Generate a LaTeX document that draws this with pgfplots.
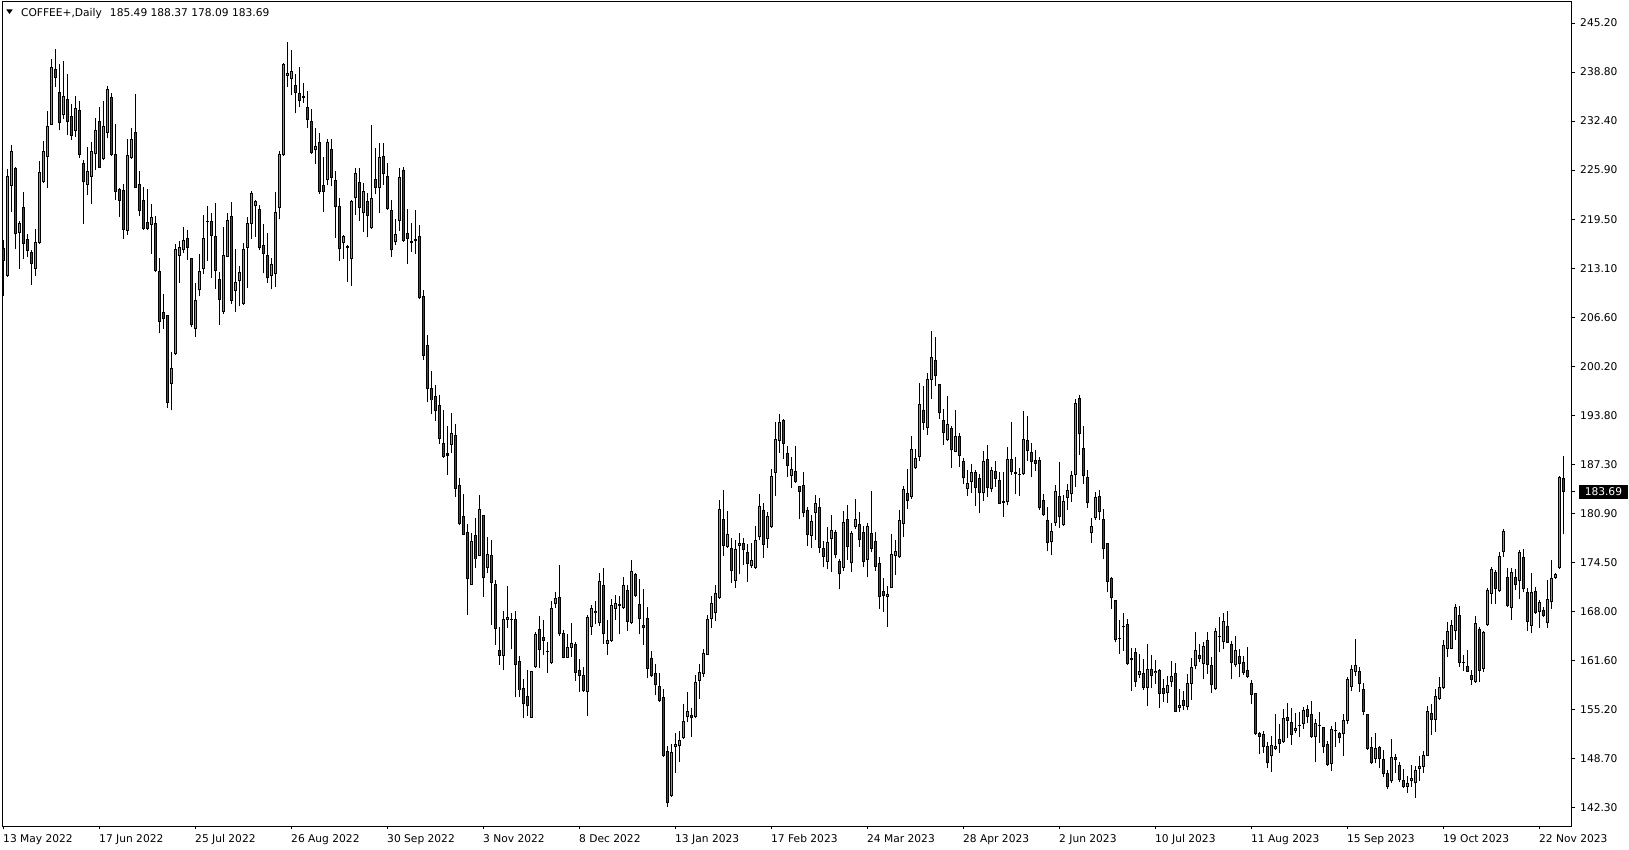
\documentclass[border=0pt]{standalone}
\usepackage{fontspec}
\setmainfont{DejaVu Sans}
\usepackage{pgfplots}
\usepackage{pgfplotstable}
\pgfplotsset{compat=1.18}
\definecolor{bull}{RGB}{30,222,30}
\definecolor{bear}{RGB}{235,0,0}
\pgfplotstableread{
x o h l c
0 215.64 216.73 209.38 213.98
1 212.05 226.01 211.92 225.13
2 223.86 229.20 220.45 228.37
3 226.14 226.30 215.55 217.48
4 217.70 219.23 212.93 218.96
5 221.02 223.03 214.24 216.25
6 216.82 217.48 214.55 215.33
7 215.16 215.42 210.83 213.63
8 212.97 218.18 212.01 216.43
9 216.38 227.10 216.25 225.61
10 224.39 229.73 224.17 228.37
11 227.67 233.66 223.60 231.65
12 231.87 240.49 231.80 239.39
13 239.17 241.80 236.86 238.04
14 236.11 239.83 231.17 232.13
15 233.18 240.22 232.61 235.59
16 235.19 238.52 230.56 232.26
17 232.96 234.54 229.86 230.43
18 231.08 235.63 230.29 234.01
19 233.75 234.97 227.54 227.89
20 226.79 227.23 218.88 224.39
21 223.99 228.94 222.64 225.74
22 225.04 229.64 221.46 228.37
23 228.06 232.70 225.92 231.17
24 232.35 234.19 226.14 226.23
25 227.32 234.97 227.20 231.65
26 230.82 236.94 230.08 236.55
27 235.46 236.07 227.76 227.89
28 227.98 231.96 221.98 223.08
29 223.38 223.50 219.80 221.89
30 223.25 224.08 216.86 218.09
31 217.96 229.99 217.39 227.84
32 227.54 231.39 227.40 229.94
33 230.86 235.89 223.50 223.60
34 224.04 225.79 219.93 220.59
35 221.94 223.74 218.10 218.18
36 219.06 223.43 218.10 218.18
37 218.66 221.46 214.95 219.71
38 218.97 219.89 212.50 212.67
39 212.63 214.38 204.49 206.02
40 207.25 209.65 205.06 206.33
41 206.85 206.90 194.73 195.39
42 197.80 202.04 194.38 199.90
43 201.73 216.17 201.70 215.56
44 214.68 216.61 211.10 215.82
45 215.47 218.44 214.99 216.74
46 216.96 218.05 214.16 215.73
47 214.33 214.40 205.28 205.63
48 205.02 211.10 204.05 208.82
49 210.13 214.86 209.43 212.63
50 212.89 220.02 212.32 216.96
51 219.10 221.20 213.98 219.20
52 219.23 220.28 211.80 217.31
53 217.26 221.59 210.35 212.71
54 211.62 212.54 205.63 208.91
55 207.33 218.40 207.07 214.73
56 214.55 220.28 214.46 219.36
57 219.84 221.73 208.34 208.78
58 210.09 215.56 207.33 211.23
59 211.40 213.33 208.03 212.50
60 208.34 216.34 208.21 215.56
61 215.73 219.76 210.48 218.97
62 218.79 223.13 216.87 222.86
63 221.24 221.99 217.18 221.86
64 220.76 221.33 215.47 215.73
65 216.08 218.84 212.36 214.86
66 214.77 217.61 211.10 211.71
67 212.05 214.37 210.26 213.54
68 212.23 222.99 210.61 220.36
69 220.89 228.41 219.44 227.97
70 227.84 239.92 227.80 239.78
71 238.21 242.67 236.85 238.60
72 237.82 241.67 235.76 238.87
73 237.03 238.52 233.35 235.98
74 235.98 239.43 234.14 234.93
75 235.58 237.29 234.75 235.32
76 234.14 236.28 231.47 232.48
77 232.30 233.88 228.02 228.10
78 228.50 231.39 226.66 229.02
79 229.55 230.77 222.77 223.07
80 223.90 227.67 220.45 223.07
81 224.60 230.03 223.90 229.55
82 228.67 229.99 223.82 224.91
83 224.56 225.74 217.04 221.02
84 221.15 222.20 213.93 215.51
85 216.29 217.39 214.19 217.21
86 215.90 216.12 211.17 215.64
87 214.19 221.98 210.74 221.81
88 222.20 226.22 220.06 225.48
89 224.30 226.18 219.27 220.89
90 220.23 224.17 217.82 223.12
91 221.85 222.85 217.08 219.92
92 218.26 231.82 218.20 222.20
93 224.69 228.85 222.72 223.60
94 223.51 229.42 220.23 227.62
95 227.71 229.42 223.99 225.35
96 225.13 226.88 220.70 220.76
97 220.67 222.00 214.54 215.37
98 216.42 219.50 216.12 217.47
99 219.18 226.22 217.97 225.01
100 225.88 226.30 216.51 216.66
101 217.63 220.78 213.65 216.90
102 216.61 219.03 215.20 216.32
103 216.85 220.69 214.96 216.66
104 217.24 218.65 209.00 209.08
105 209.33 210.20 200.98 201.46
106 202.92 204.28 195.54 197.14
107 197.29 199.52 193.84 195.68
108 196.22 197.72 193.01 194.28
109 195.05 196.41 189.96 190.68
110 190.05 194.42 188.11 188.31
111 188.45 192.33 185.93 188.74
112 189.86 193.99 188.79 191.36
113 191.12 192.58 183.06 184.03
114 184.52 185.49 179.32 179.42
115 180.49 183.40 177.96 178.06
116 178.35 179.42 167.58 172.24
117 171.51 178.30 171.41 177.19
118 177.96 180.25 173.69 174.81
119 175.25 183.21 175.20 181.41
120 180.59 180.60 169.91 172.33
121 173.64 177.77 173.01 175.49
122 175.34 177.38 166.27 171.70
123 171.56 172.14 163.64 165.63
124 162.92 165.93 160.97 162.19
125 162.19 168.01 160.25 166.95
126 166.90 171.31 165.88 167.24
127 166.85 167.77 163.01 166.80
128 166.95 168.11 156.70 160.93
129 161.46 162.09 156.70 157.62
130 157.90 159.08 153.96 155.80
131 156.85 160.26 154.31 155.54
132 154.05 160.20 153.96 160.17
133 160.66 165.25 160.61 165.03
134 165.64 167.39 160.61 162.89
135 164.59 166.87 162.27 164.16
136 162.75 164.02 159.96 162.70
137 161.18 169.36 161.10 168.40
138 168.92 170.54 168.40 169.71
139 169.84 174.09 164.81 164.99
140 165.12 165.56 161.84 161.92
141 161.92 165.03 161.84 163.28
142 163.15 166.43 162.06 163.81
143 163.67 164.02 158.86 159.87
144 160.26 161.71 157.46 159.47
145 159.61 160.66 157.42 157.55
146 157.37 167.52 154.31 167.26
147 165.91 168.88 164.90 168.44
148 168.05 169.36 166.30 167.74
149 166.43 172.99 166.08 171.94
150 171.42 173.74 163.72 164.99
151 163.72 166.82 162.32 164.20
152 164.16 169.62 164.02 168.79
153 168.35 170.15 166.91 169.05
154 168.75 170.06 164.99 168.97
155 168.40 172.47 168.31 171.42
156 170.76 171.46 165.47 166.56
157 166.43 174.74 166.34 173.25
158 172.86 173.08 169.89 169.97
159 168.92 172.29 164.99 166.95
160 166.21 170.94 163.59 165.77
161 167.09 168.62 159.21 160.44
162 161.84 162.76 159.34 159.56
163 159.87 161.05 157.02 158.29
164 158.16 159.87 156.15 156.28
165 156.72 157.77 148.90 148.98
166 149.68 150.33 142.37 142.81
167 143.73 150.55 143.70 149.55
168 150.16 151.99 146.83 150.60
169 150.29 152.26 148.28 151.08
170 151.34 155.84 151.30 153.57
171 154.09 157.38 153.53 154.88
172 154.40 155.32 151.56 153.96
173 154.09 159.61 154.00 158.69
174 158.86 161.05 156.54 160.00
175 159.74 163.02 159.43 162.49
176 162.32 167.52 162.30 167.00
177 166.96 170.02 165.77 169.06
178 167.74 171.46 166.78 170.37
179 169.80 182.62 169.67 181.39
180 180.12 183.93 175.31 176.62
181 176.49 181.17 176.36 178.11
182 176.27 177.63 171.77 173.34
183 172.03 177.37 171.11 176.19
184 176.62 178.29 172.86 176.93
185 176.93 177.59 174.13 176.10
186 175.75 176.84 171.90 174.26
187 174.00 176.93 173.74 174.70
188 173.74 179.20 173.61 177.32
189 177.72 183.36 177.37 181.79
190 181.30 182.18 175.05 176.75
191 177.54 181.00 176.32 180.52
192 179.12 186.64 178.99 185.72
193 186.12 192.81 183.19 190.58
194 190.32 193.86 188.83 192.81
195 193.07 193.20 188.04 189.92
196 188.74 189.75 185.68 187.12
197 185.81 188.22 184.24 186.64
198 186.47 189.70 184.80 185.02
199 184.41 184.50 180.08 183.71
200 184.59 186.25 180.43 180.87
201 181.26 181.74 176.62 177.98
202 177.89 180.65 176.27 179.82
203 180.87 183.23 177.32 182.18
204 181.66 182.88 175.62 176.36
205 176.27 177.24 173.78 175.18
206 174.52 179.03 173.52 177.06
207 177.46 180.61 173.12 178.64
208 178.37 178.68 174.96 175.36
209 174.61 174.87 170.89 172.86
210 173.65 181.22 173.34 179.69
211 180.08 181.96 174.74 176.49
212 174.31 178.59 173.21 178.24
213 179.03 182.71 178.77 180.08
214 179.42 181.00 176.49 177.32
215 178.37 179.21 173.78 174.52
216 174.74 179.60 172.47 179.25
217 178.24 183.80 175.75 176.23
218 177.19 178.42 173.34 173.87
219 174.31 175.09 168.36 169.84
220 170.63 172.38 167.96 169.98
221 169.84 171.33 165.99 170.33
222 171.03 178.16 171.00 175.49
223 175.22 177.37 172.78 175.92
224 175.09 181.31 175.00 179.95
225 179.42 184.50 177.81 184.02
226 183.49 186.69 181.48 182.44
227 183.06 191.02 182.79 189.27
228 186.77 189.27 186.64 188.09
229 188.26 197.93 187.74 195.17
230 194.43 197.62 191.80 192.77
231 192.02 199.24 191.15 198.45
232 198.37 204.80 195.87 201.34
233 200.95 204.05 197.62 198.93
234 197.80 197.90 193.25 193.99
235 193.12 194.56 189.84 191.37
236 190.45 196.27 190.32 192.55
237 192.02 192.33 186.86 189.14
238 188.96 194.43 188.87 190.97
239 190.97 191.37 186.99 188.35
240 187.74 188.17 184.67 185.46
241 184.02 186.55 183.19 184.80
242 185.02 187.30 183.58 186.25
243 186.25 186.60 181.87 184.24
244 185.50 186.03 180.87 183.49
245 183.49 189.05 182.53 187.69
246 187.95 189.84 183.06 184.15
247 184.02 186.95 183.62 186.51
248 186.38 187.74 184.37 185.33
249 185.20 186.25 182.05 182.14
250 182.44 186.25 180.43 182.27
251 182.31 189.57 181.92 187.95
252 187.95 192.85 185.85 186.25
253 186.25 188.30 183.36 186.07
254 185.95 186.86 183.19 185.90
255 185.99 194.30 185.90 190.58
256 190.45 193.60 187.74 189.05
257 188.87 190.10 185.59 187.56
258 187.82 189.18 186.47 187.39
259 187.82 188.30 181.31 181.52
260 182.62 183.45 180.56 180.65
261 179.95 181.70 175.88 176.97
262 177.06 179.64 175.36 178.55
263 179.55 184.54 179.24 183.75
264 183.09 187.60 178.89 180.34
265 179.33 183.27 179.24 182.44
266 182.83 184.67 181.34 183.88
267 183.36 186.37 182.39 185.85
268 185.85 195.87 184.36 195.30
269 195.95 196.39 188.52 191.23
270 189.39 192.32 184.76 185.72
271 185.59 186.51 181.61 182.17
272 178.24 180.25 177.01 179.16
273 180.21 183.66 179.99 182.96
274 183.09 183.92 179.99 180.99
275 180.07 181.39 174.83 176.14
276 176.92 176.99 170.49 171.81
277 172.38 172.55 168.35 169.71
278 169.44 169.50 163.93 164.20
279 164.41 166.82 162.40 164.33
280 165.95 167.78 162.84 165.90
281 166.30 167.04 160.96 161.09
282 161.61 163.19 157.59 161.88
283 162.62 163.19 158.11 158.77
284 159.65 162.40 159.21 160.13
285 159.86 161.70 157.68 157.98
286 157.90 163.71 155.62 160.39
287 160.39 162.27 157.90 159.56
288 159.86 161.61 158.42 160.17
289 160.26 160.48 155.27 157.20
290 157.90 159.12 156.15 157.20
291 157.24 159.51 156.01 158.33
292 158.68 161.48 158.11 159.51
293 159.86 161.22 154.80 154.83
294 155.36 157.76 154.83 155.71
295 156.36 157.55 155.05 155.58
296 155.40 159.78 155.05 158.55
297 158.42 161.83 156.37 160.65
298 160.78 165.29 160.39 162.93
299 162.23 163.67 161.31 161.70
300 161.05 164.02 159.08 163.45
301 164.20 165.29 159.78 160.92
302 160.96 162.05 157.24 158.29
303 157.77 165.77 157.70 165.38
304 164.72 167.30 162.62 164.59
305 164.02 167.74 163.06 166.69
306 166.08 168.05 163.80 163.89
307 163.67 164.15 159.12 161.18
308 160.92 164.77 160.74 162.88
309 162.14 163.06 159.34 161.13
310 161.35 162.14 159.69 159.95
311 160.26 163.32 159.21 159.34
312 158.55 158.99 155.80 156.98
313 157.24 157.30 151.77 151.90
314 151.99 152.21 149.24 151.55
315 151.86 152.34 149.45 150.15
316 150.33 150.90 147.44 148.05
317 148.97 151.64 146.96 150.42
318 149.89 154.53 149.80 150.33
319 151.20 153.22 149.37 150.64
320 150.81 155.23 150.68 153.96
321 154.14 155.93 151.42 153.65
322 153.48 155.27 150.50 151.73
323 152.34 154.70 151.99 152.69
324 153.04 154.75 151.47 153.00
325 153.17 155.40 152.60 155.01
326 155.19 155.71 153.30 154.18
327 154.53 156.24 151.40 151.47
328 151.46 153.87 148.27 153.30
329 153.02 154.74 150.76 153.00
330 152.78 152.80 149.36 150.24
331 150.55 150.94 147.70 147.88
332 147.92 153.00 147.09 152.51
333 152.25 153.52 150.24 152.34
334 151.99 152.21 150.68 151.33
335 151.86 154.48 149.01 153.70
336 153.65 159.43 153.26 159.08
337 158.03 161.00 157.54 160.39
338 160.08 164.37 159.56 160.91
339 160.13 160.74 157.46 158.42
340 157.76 158.55 154.35 154.83
341 154.48 154.50 149.80 149.98
342 150.15 151.55 147.96 148.05
343 148.58 151.99 148.14 150.02
344 150.24 150.37 147.40 148.58
345 148.62 149.80 146.30 146.65
346 146.74 147.18 144.68 144.99
347 145.69 151.25 145.51 148.88
348 148.93 149.28 146.74 148.53
349 147.79 148.27 145.56 145.91
350 145.82 147.26 144.86 144.99
351 144.99 146.43 144.20 145.47
352 145.78 147.83 144.99 146.13
353 145.43 147.70 143.55 147.22
354 147.35 149.01 145.78 147.70
355 147.61 149.71 146.83 149.10
356 149.06 155.62 149.00 154.92
357 154.66 155.84 151.81 153.74
358 153.78 157.76 152.21 156.84
359 156.49 159.43 156.36 158.03
360 157.89 164.24 157.80 163.63
361 163.11 166.61 162.06 165.38
362 163.11 166.87 163.02 166.17
363 165.38 168.92 164.24 168.57
364 167.52 168.75 160.74 161.27
365 161.40 162.27 160.17 161.18
366 160.83 162.93 160.00 160.09
367 159.61 160.31 158.34 158.99
368 158.77 167.44 158.64 166.47
369 165.73 165.99 158.69 160.22
370 160.39 165.47 160.09 165.29
371 166.17 171.11 166.08 170.76
372 170.28 173.87 168.92 173.56
373 173.12 173.43 168.92 170.98
374 170.63 175.84 170.54 175.22
375 175.79 178.81 175.18 178.55
376 172.55 173.74 168.62 168.75
377 168.40 173.65 166.82 173.21
378 172.55 173.56 170.80 171.42
379 172.03 176.05 169.62 175.75
380 175.18 176.19 170.50 170.89
381 170.50 171.02 165.47 166.65
382 166.08 172.99 165.12 170.59
383 170.63 171.15 167.61 167.83
384 167.96 169.49 165.86 169.19
385 168.18 168.62 167.31 167.39
386 166.43 172.12 165.77 169.67
387 169.19 174.74 168.31 172.34
388 172.40 173.08 172.30 172.85
389 173.65 185.77 173.60 185.68
390 185.49 188.37 178.09 183.69
}\ohlc

\begin{document}
\begin{tikzpicture}[x=0.75pt,y=0.75pt]
\path[use as bounding box] (0,0) rectangle (1629,850);
\begin{axis}[
  at={(1.5pt,18pt)}, anchor=south west,
  width=1177.5pt, height=618pt, scale only axis,
  xmin=-0.375, xmax=392.125, ymin=139.83, ymax=247.97,
  axis line style={line width=0.75pt, black},
  every tick/.style={black, line width=0.75pt},
  tick align=outside, major tick length=2.6pt,
  ytick pos=right, yticklabel pos=right,
  xtick pos=left,
  ytick={142.3,148.73125,155.1625,161.59375,168.025,174.45625,180.8875,187.31875,193.75,200.18125,206.6125,213.04375,219.475,225.90625,232.3375,238.76875,245.2},
  yticklabels={142.30,148.70,155.20,161.60,168.00,174.50,180.90,187.30,193.80,200.20,206.60,213.10,219.50,225.90,232.40,238.80,245.20},
  yticklabel style={anchor=west, inner sep=0pt, xshift=3.4pt, font=\fontsize{8}{9.6}\selectfont},
  extra y ticks={183.69}, extra y tick labels={183.69},
  extra y tick style={yticklabel style={fill=black, text=white, inner xsep=4.2pt, inner ysep=2.2pt, xshift=-0.8pt}},
  xtick={0,24,...,384},
  xticklabels={13 May 2022,17 Jun 2022,25 Jul 2022,26 Aug 2022,30 Sep 2022,3 Nov 2022,8 Dec 2022,13 Jan 2023,17 Feb 2023,24 Mar 2023,28 Apr 2023,2 Jun 2023,10 Jul 2023,11 Aug 2023,15 Sep 2023,19 Oct 2023,22 Nov 2023},
  xticklabel style={anchor=base west, inner sep=0pt, yshift=-9.5pt, xshift=-0.4pt, font=\fontsize{8}{9.6}\selectfont},
  clip=true,
]
% wicks
\addplot[draw=none, mark=none, error bars/.cd, y dir=plus, y explicit, error mark=none,
  error bar style={draw=black, line width=0.75pt}]
  table[x=x, y=l, y error plus expr={\thisrow{h}-\thisrow{l}}] {\ohlc};
% body outlines
\addplot[draw=none, mark=none, error bars/.cd, y dir=plus, y explicit, error mark=none,
  error bar style={draw=black, line width=2.45pt}]
  table[x=x, y expr={min(\thisrow{o},\thisrow{c})}, y error plus expr={max(abs(\thisrow{c}-\thisrow{o}),0.14)}] {\ohlc};
% bullish fill
\addplot[draw=none, mark=none, restrict expr to domain={\thisrow{c}-\thisrow{o}}{0.3:1000},
  error bars/.cd, y dir=plus, y explicit, error mark=none,
  error bar style={draw=bull, line width=1.4pt}]
  table[x=x, y expr={min(\thisrow{o},\thisrow{c})+0.12}, y error plus expr={abs(\thisrow{c}-\thisrow{o})-0.24}] {\ohlc};
% bearish fill
\addplot[draw=none, mark=none, restrict expr to domain={\thisrow{o}-\thisrow{c}}{0.3:1000},
  error bars/.cd, y dir=plus, y explicit, error mark=none,
  error bar style={draw=bear, line width=1.4pt}]
  table[x=x, y expr={min(\thisrow{o},\thisrow{c})+0.12}, y error plus expr={abs(\thisrow{c}-\thisrow{o})-0.24}] {\ohlc};
\end{axis}
\fill[black] (6.3,840.5) -- (12.7,840.5) -- (9.5,836) -- cycle;
\node[anchor=base west, inner sep=0pt, font=\fontsize{8}{9.6}\selectfont] at (20.8,833.6) {COFFEE+,Daily\hspace{6pt}185.49 188.37 178.09 183.69};
\end{tikzpicture}
\end{document}
